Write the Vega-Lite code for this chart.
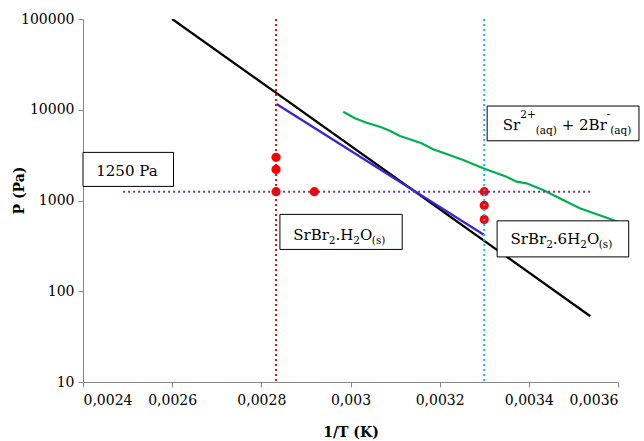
{
  "$schema": "https://vega.github.io/schema/vega-lite/v6.json",
  "width": 535,
  "height": 363,
  "autosize": {"type": "none"},
  "padding": {"left": 83, "top": 19, "right": 26, "bottom": 59},
  "background": "white",
  "config": {
    "view": {"stroke": null},
    "axis": {
      "grid": false,
      "domainColor": "#868686",
      "tickColor": "#868686",
      "tickSize": 5,
      "labelFont": "DejaVu Serif",
      "labelFontSize": 14,
      "labelColor": "#000000",
      "titleFont": "DejaVu Serif",
      "titleFontSize": 14,
      "titleFontWeight": "bold",
      "titleColor": "#000000"
    }
  },
  "datasets": {
    "lines": [
      {"series": "black", "x": 0.0026, "p": 100000},
      {"series": "black", "x": 0.003538, "p": 53},
      {"series": "blue", "x": 0.002834, "p": 11560},
      {"series": "blue", "x": 0.0033, "p": 416},
      {"series": "green", "x": 0.0029836, "p": 9517},
      {"series": "green", "x": 0.0030099, "p": 8052},
      {"series": "green", "x": 0.0030361, "p": 7198},
      {"series": "green", "x": 0.0030659, "p": 6505},
      {"series": "green", "x": 0.0030883, "p": 5877},
      {"series": "green", "x": 0.0031108, "p": 5136},
      {"series": "green", "x": 0.0031332, "p": 4725},
      {"series": "green", "x": 0.0031594, "p": 4269},
      {"series": "green", "x": 0.0031854, "p": 3666},
      {"series": "green", "x": 0.0032155, "p": 3253},
      {"series": "green", "x": 0.0032527, "p": 2794},
      {"series": "green", "x": 0.0032976, "p": 2264},
      {"series": "green", "x": 0.00335, "p": 1829},
      {"series": "green", "x": 0.0033725, "p": 1612},
      {"series": "green", "x": 0.0033949, "p": 1547},
      {"series": "green", "x": 0.0034321, "p": 1306},
      {"series": "green", "x": 0.0034769, "p": 1013},
      {"series": "green", "x": 0.0035144, "p": 820},
      {"series": "green", "x": 0.0035891, "p": 610},
      {"series": "green", "x": 0.0035973, "p": 587}
    ],
    "points": [
      {"x": 0.002833, "p": 1250},
      {"x": 0.002833, "p": 2200},
      {"x": 0.002833, "p": 2990},
      {"x": 0.002919, "p": 1250},
      {"x": 0.0033, "p": 1250},
      {"x": 0.0033, "p": 883},
      {"x": 0.0033, "p": 619}
    ],
    "vlines": [
      {"name": "SrBr2.H2O", "x": 0.002833},
      {"name": "SrBr2.6H2O", "x": 0.0033}
    ],
    "hline": [
      {"x": 0.00249, "x2": 0.00354, "p": 1250}
    ],
    "boxes": [
      {"box": "1250 Pa", "x": 0.0024, "x2": 0.002603, "p": 3390, "p2": 1430},
      {"box": "SrBr2.H2O(s)", "x": 0.0028417, "x2": 0.0031159, "p": 703, "p2": 289},
      {"box": "Sr2+(aq) + 2Br-(aq)", "x": 0.0033065, "x2": 0.003647, "p": 10990, "p2": 4550},
      {"box": "SrBr2.6H2O(s)", "x": 0.0033289, "x2": 0.003624, "p": 597, "p2": 239}
    ],
    "texts": [
      {"kind": "main", "text": "1250 Pa", "x": 0.0024298, "p": 1849},
      {"kind": "main", "text": "SrBr", "x": 0.0028715, "p": 367},
      {"kind": "sub", "text": "2", "x": 0.0029514, "p": 332},
      {"kind": "main", "text": ".H", "x": 0.0029664, "p": 367},
      {"kind": "sub", "text": "2", "x": 0.0030063, "p": 332},
      {"kind": "main", "text": "O", "x": 0.0030213, "p": 367},
      {"kind": "sub", "text": "(s)", "x": 0.0030478, "p": 332},
      {"kind": "main", "text": "Sr", "x": 0.0033417, "p": 5980},
      {"kind": "sub", "text": "2+", "x": 0.0033807, "p": 8110},
      {"kind": "sub", "text": "(aq)", "x": 0.0034155, "p": 5405},
      {"kind": "main", "text": "+ 2Br", "x": 0.0034738, "p": 5980},
      {"kind": "sub", "text": "-", "x": 0.0035747, "p": 8110},
      {"kind": "sub", "text": "(aq)", "x": 0.0035825, "p": 5405},
      {"kind": "main", "text": "SrBr", "x": 0.003359, "p": 329},
      {"kind": "sub", "text": "2", "x": 0.0034388, "p": 297},
      {"kind": "main", "text": ".6H", "x": 0.0034538, "p": 329},
      {"kind": "sub", "text": "2", "x": 0.0035153, "p": 297},
      {"kind": "main", "text": "O", "x": 0.0035303, "p": 329},
      {"kind": "sub", "text": "(s)", "x": 0.0035568, "p": 297}
    ]
  },
  "layer": [
    {
      "data": {"name": "lines"},
      "mark": {"type": "line", "strokeWidth": 2.25, "clip": true},
      "encoding": {
        "x": {
          "field": "x", "type": "quantitative",
          "scale": {"domain": [0.0024, 0.0036], "nice": false, "zero": false},
          "axis": {
            "title": "1/T (K)",
            "values": [0.0024, 0.0026, 0.0028, 0.003, 0.0032, 0.0034, 0.0036],
            "labelExpr": "replace(format(datum.value, '.4~f'), '.', ',')",
            "labelPadding": 6,
            "titleY": 50,
            "titleBaseline": "middle"
          }
        },
        "y": {
          "field": "p", "type": "quantitative",
          "scale": {"type": "log", "domain": [10, 100000], "nice": false},
          "axis": {
            "title": "P (Pa)",
            "values": [10, 100, 1000, 10000, 100000],
            "format": "d",
            "labelPadding": 4,
            "titleX": -64,
            "titleY": 171,
            "titleBaseline": "middle"
          }
        },
        "color": {
          "field": "series", "type": "nominal",
          "scale": {"domain": ["black", "blue", "green"], "range": ["#000000", "#3b22d8", "#00b050"]},
          "legend": null
        },
        "detail": {"field": "series"}
      }
    },
    {
      "data": {"name": "points"},
      "mark": {"type": "circle", "size": 85, "color": "#ff0000", "opacity": 1},
      "encoding": {
        "x": {"field": "x", "type": "quantitative"},
        "y": {"field": "p", "type": "quantitative"}
      }
    },
    {
      "data": {"name": "vlines"},
      "transform": [{"filter": "datum.name === 'SrBr2.H2O'"}],
      "mark": {"type": "rule", "strokeWidth": 2, "strokeDash": [2, 3], "color": "#e00b0b"},
      "encoding": {
        "x": {"field": "x", "type": "quantitative"}
      }
    },
    {
      "data": {"name": "vlines"},
      "transform": [{"filter": "datum.name === 'SrBr2.6H2O'"}],
      "mark": {"type": "rule", "strokeWidth": 2, "strokeDash": [2, 3], "color": "#12b4ef"},
      "encoding": {
        "x": {"field": "x", "type": "quantitative"}
      }
    },
    {
      "data": {"name": "hline"},
      "mark": {"type": "rule", "strokeWidth": 2, "strokeDash": [2, 3], "color": "#7030a0"},
      "encoding": {
        "x": {"field": "x", "type": "quantitative"},
        "x2": {"field": "x2"},
        "y": {"field": "p", "type": "quantitative"}
      }
    },
    {
      "data": {"name": "boxes"},
      "mark": {"type": "rect", "fill": "white", "stroke": "#000000", "strokeWidth": 1, "clip": false},
      "encoding": {
        "x": {"field": "x", "type": "quantitative"},
        "x2": {"field": "x2"},
        "y": {"field": "p", "type": "quantitative"},
        "y2": {"field": "p2"}
      }
    },
    {
      "data": {"name": "texts"},
      "transform": [{"filter": "datum.kind === 'main'"}],
      "mark": {"type": "text", "font": "DejaVu Serif", "fontSize": 15, "align": "left", "baseline": "alphabetic", "color": "#000000"},
      "encoding": {
        "x": {"field": "x", "type": "quantitative"},
        "y": {"field": "p", "type": "quantitative"},
        "text": {"field": "text"}
      }
    },
    {
      "data": {"name": "texts"},
      "transform": [{"filter": "datum.kind === 'sub'"}],
      "mark": {"type": "text", "font": "DejaVu Serif", "fontSize": 10.5, "align": "left", "baseline": "alphabetic", "color": "#000000"},
      "encoding": {
        "x": {"field": "x", "type": "quantitative"},
        "y": {"field": "p", "type": "quantitative"},
        "text": {"field": "text"}
      }
    }
  ]
}
